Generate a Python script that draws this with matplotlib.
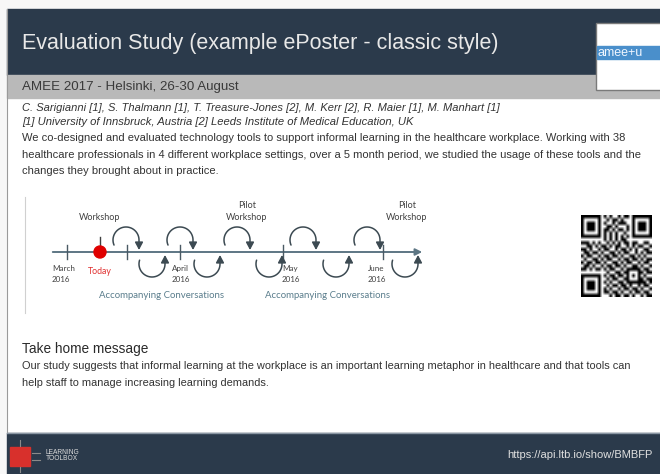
import matplotlib.pyplot as plt
import numpy as np
from matplotlib.patches import Rectangle, Circle, FancyArrowPatch
from matplotlib.path import Path

plt.rcParams['font.family'] = ['Liberation Sans', 'DejaVu Sans']

# --- poster text ---
title = "Evaluation Study (example ePoster - classic style)"
subtitle = "AMEE 2017 - Helsinki, 26-30 August"
authors = "C. Sarigianni [1], S. Thalmann [1], T. Treasure-Jones [2], M. Kerr [2], R. Maier [1], M. Manhart [1]"
affiliations = "[1] University of Innsbruck, Austria [2] Leeds Institute of Medical Education, UK"
abstract_lines = [
    "We co-designed and evaluated technology tools to support informal learning in the healthcare workplace. Working with 38",
    "healthcare professionals in 4 different workplace settings, over a 5 month period, we studied the usage of these tools and the",
    "changes they brought about in practice.",
]
take_home_title = "Take home message"
take_home_lines = [
    "Our study suggests that informal learning at the workplace is an important learning metaphor in healthcare and that tools can",
    "help staff to manage increasing learning demands.",
]
footer_url = "https://api.ltb.io/show/BMBFP"

# --- timeline (positions, timeline units) ---
month_labels = ["March\n2016", "April\n2016", "May\n2016", "June\n2016"]
month_pos = [67, 180, 283, 383]
month_label_x = [52, 172, 282, 368]
extra_ticks = [127]
today_pos = 100
event_labels = ["Workshop", "Pilot\nWorkshop", "Pilot\nWorkshop"]
event_pos = [100, 247, 407]
loop_up_pos = [126, 180, 237, 303, 367]
loop_down_pos = [152, 207, 269, 336, 405]
conv_labels = ["Accompanying Conversations", "Accompanying Conversations"]
conv_pos = [162, 328]

# QR-like pattern (hand typed)
qr_rows = [
    "1011001110100101101001101",
    "0110100101011010010110010",
    "1101011010010111001011100",
    "0010110101101000110100111",
    "1100101011010110101101001",
    "0111010010101001011010110",
    "1010011101010110100101011",
    "0101100110101011010010101",
    "1110101001010101101100110",
    "0011010110101100101011001",
    "1101001011001011010100110",
    "0110110100110101100101011",
    "1011001011011010011010100",
    "0100110101100101101101011",
    "1011011010011010110010110",
    "0110100101101101001101001",
    "1101011010110010110010110",
    "0010101101001101011011011",
    "1101010010110110100110100",
    "0110101101011001011001011",
    "1001010110100110101101101",
    "0110101001011011010010110",
    "1011010110100101101101001",
    "0101101011011010010110110",
    "1010110100101101101001011",
]

navy = '#2b3a4b'
text_c = '#333333'

fig = plt.figure(figsize=(6.6, 4.74), dpi=100)
ax = fig.add_axes([0, 0, 1, 1])
ax.set_xlim(0, 660)
ax.set_ylim(474, 0)
ax.axis('off')

# backgrounds
ax.add_patch(Rectangle((0, 0), 660, 474, color='#f7f7f7', zorder=0))
ax.add_patch(Rectangle((7, 9), 660, 424, color='white', zorder=0))
ax.plot([7, 7], [9, 433], color='#9a9a9a', lw=0.8)
ax.add_patch(Rectangle((7, 9), 660, 66, color=navy, zorder=1))
ax.add_patch(Rectangle((7, 75), 660, 23, color='#b9b9b9', zorder=1))
ax.add_patch(Rectangle((7, 433), 660, 41, color=navy, zorder=1))
ax.plot([7, 660], [433, 433], color='#8a96a3', lw=1)

# logo box
ax.add_patch(Rectangle((596, 23), 70, 67, facecolor='white', edgecolor='#7a7a7a', lw=1, zorder=2))
ax.add_patch(Rectangle((597, 46), 63, 13, color='#4a8fcb', zorder=3))
ax.text(598, 52.5, "amee+u", color='#f0f6ff', fontsize=9, va='center', zorder=4)

# header text
ax.text(22, 43, title, color='#e8e8e8', fontsize=15.5, va='center', zorder=3)
ax.text(22, 87, subtitle, color='#3a3a3a', fontsize=9.6, va='center', zorder=3)

# authors / abstract
ax.text(22, 108, authors, color=text_c, fontsize=8, style='italic', va='center')
ax.text(22, 122, affiliations, color=text_c, fontsize=8.1, style='italic', va='center')
for i, line in enumerate(abstract_lines):
    ax.text(22, 138 + i * 16.5, line, color=text_c, fontsize=8, va='center')

# timeline
ax.plot([25, 25], [197, 313], color='#d0d0d0', lw=0.8)
line_y = 252
tl_c = '#5d7684'
ax.add_patch(FancyArrowPatch((50, line_y), (425, line_y), arrowstyle='-|>,head_length=4,head_width=2',
                             color=tl_c, lw=1.4, mutation_scale=1))
for x in month_pos + extra_ticks:
    ax.plot([x, x], [245, 259], color='#4a5a64', lw=1)
lab_font = ['Lato', 'DejaVu Sans']
for lab, x in zip(month_labels, month_label_x):
    ax.text(x, 265, lab, fontsize=5.8, color='#404040', va='top', ha='left', linespacing=1.7, family=lab_font)
ax.plot([today_pos, today_pos], [237, 247], color='#404040', lw=1)
ax.add_patch(Circle((today_pos, line_y), 6, color='#e00000', zorder=5))
ax.text(today_pos, 271, "Today", fontsize=6.3, color='#e03030', ha='center', va='center', family=lab_font)
for lab, x in zip(event_labels, event_pos):
    ax.text(x, 222, lab, fontsize=6.5, color='#404040', ha='center', va='bottom', linespacing=1.4, family=lab_font)
for lab, x in zip(conv_labels, conv_pos):
    ax.text(x, 295, lab, fontsize=6.9, color='#5a7d8c', ha='center', va='center', family=lab_font)

loop_c = '#3c4a52'
rx, ry = 13, 13
head = '-|>,head_length=4.5,head_width=2.4'
for cx in loop_up_pos:
    th = np.linspace(np.pi + 0.4, 0, 40)
    pts = np.column_stack([cx + rx * np.cos(th), 240 - ry * np.sin(th)])
    pts = np.vstack([pts, [cx + rx, 250]])
    ax.add_patch(FancyArrowPatch(path=Path(pts), arrowstyle=head, shrinkA=0, shrinkB=0,
                                 color=loop_c, lw=1.1, mutation_scale=1, zorder=4))
for cx in loop_down_pos:
    th = np.linspace(np.pi - 0.3, 2 * np.pi, 40)
    pts = np.column_stack([cx + rx * np.cos(th), 264 - ry * np.sin(th)])
    pts = np.vstack([pts, [cx + rx, 255]])
    ax.add_patch(FancyArrowPatch(path=Path(pts), arrowstyle=head, shrinkA=0, shrinkB=0,
                                 color=loop_c, lw=1.1, mutation_scale=1, zorder=4))

# QR code
n = 25
qr = np.array([[int(c) for c in row[:n].ljust(n, '0')] for row in qr_rows])
def finder(r0, c0):
    qr[max(r0 - 1, 0):r0 + 8, max(c0 - 1, 0):c0 + 8] = 0
    qr[r0:r0 + 7, c0:c0 + 7] = 1
    qr[r0 + 1:r0 + 6, c0 + 1:c0 + 6] = 0
    qr[r0 + 2:r0 + 5, c0 + 2:c0 + 5] = 1
finder(0, 0)
finder(0, n - 7)
finder(n - 7, 0)
qr[6, 8:n - 8] = [(i + 1) % 2 for i in range(8, n - 8)]
qr[8:n - 8, 6] = [(i + 1) % 2 for i in range(8, n - 8)]
qr[16:21, 16:21] = 1
qr[17:20, 17:20] = 0
qr[18, 18] = 1
ax.imshow(1 - qr, cmap='gray', extent=[581, 652, 297, 215], aspect='auto', interpolation='bilinear', zorder=3)

# take home message
ax.text(22, 349, take_home_title, color='#2a2a2a', fontsize=9.8, va='center')
for i, line in enumerate(take_home_lines):
    ax.text(22, 366 + i * 16.5, line, color=text_c, fontsize=7.9, va='center')

# footer
ax.add_patch(Rectangle((10, 447), 20, 19, color='#d8302c', zorder=3))
ax.plot([20, 20], [440, 446], color='#8a8a8a', lw=0.8, zorder=3)
ax.plot([20, 20], [467, 472], color='#8a8a8a', lw=0.8, zorder=3)
ax.plot([32, 40], [453, 453], color='#8a8a8a', lw=0.8, zorder=3)
ax.plot([32, 40], [460, 460], color='#8a8a8a', lw=0.8, zorder=3)
ax.text(46, 452, "LEARNING", color='#dddddd', fontsize=4.8, va='center', zorder=3)
ax.text(46, 459, "TOOLBOX", color='#dddddd', fontsize=4.8, va='center', zorder=3)
ax.text(653, 455, footer_url, color='#e0e0e0', fontsize=8, ha='right', va='center', zorder=3)

fig.savefig('out.png', dpi=100)
